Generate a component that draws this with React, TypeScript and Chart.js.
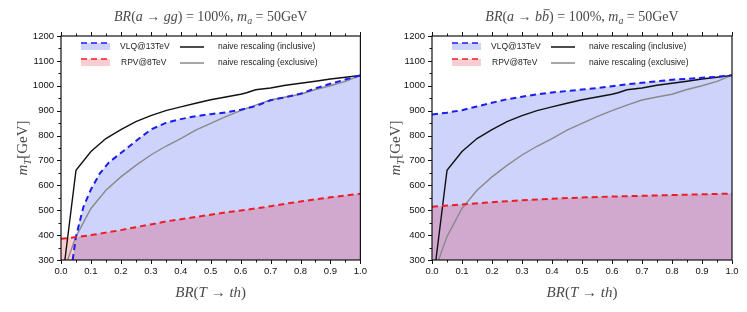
import React, { useEffect, useRef } from "react";
import { Chart, registerables } from "chart.js";
Chart.register(...registerables);

// ---------- data ----------
const BR_INCL = [0.013, 0.05, 0.1, 0.15, 0.2, 0.25, 0.3, 0.35, 0.4, 0.45, 0.5, 0.55, 0.6, 0.62, 0.65, 0.7, 0.75, 0.8, 0.85, 0.9, 0.95, 1.0];
const M_INCL = [300, 660, 736, 788, 824, 856, 880, 900, 915, 930, 944, 955, 966, 972, 984, 991, 1002, 1010, 1018, 1027, 1034, 1042];

const BR_EXCL = [0.022, 0.05, 0.1, 0.15, 0.2, 0.25, 0.3, 0.35, 0.4, 0.45, 0.5, 0.55, 0.6, 0.65, 0.7, 0.75, 0.8, 0.85, 0.9, 0.95, 1.0];
const M_EXCL = [300, 394, 507, 580, 634, 680, 722, 757, 788, 822, 849, 876, 900, 922, 943, 955, 966, 985, 1000, 1018, 1042];

const BR_VLQ_GG = [0.039, 0.05, 0.075, 0.1, 0.13, 0.16, 0.2, 0.25, 0.3, 0.35, 0.4, 0.45, 0.5, 0.55, 0.6, 0.65, 0.7, 0.75, 0.8, 0.85, 0.9, 0.95, 1.0];
const M_VLQ_GG = [300, 394, 514, 583, 648, 692, 730, 778, 824, 851, 866, 878, 886, 893, 904, 918, 942, 954, 968, 990, 1008, 1025, 1042];

const BR_RPV_GG = [0.0, 0.05, 0.1, 0.15, 0.2, 0.25, 0.3, 0.35, 0.4, 0.45, 0.5, 0.55, 0.6, 0.65, 0.7, 0.75, 0.8, 0.85, 0.9, 0.95, 1.0];
const M_RPV_GG = [385, 392, 400, 410, 420, 432, 443, 455, 464, 473, 482, 491, 499, 507, 516, 526, 535, 544, 552, 559, 566];

const BR_VLQ_BB = [0.0, 0.05, 0.1, 0.15, 0.2, 0.25, 0.3, 0.35, 0.4, 0.45, 0.5, 0.55, 0.6, 0.65, 0.7, 0.75, 0.8, 0.85, 0.9, 0.95, 1.0];
const M_VLQ_BB = [885, 892, 902, 917, 932, 946, 956, 966, 973, 979, 985, 991, 998, 1006, 1012, 1018, 1024, 1028, 1032, 1036, 1042];

const BR_RPV_BB = [0.0, 0.1, 0.2, 0.3, 0.4, 0.5, 0.6, 0.7, 0.8, 0.9, 1.0];
const M_RPV_BB = [514, 523, 532, 540, 546, 551, 555, 558, 561, 564, 567];

const X_MIN = 0, X_MAX = 1, X_STEP = 0.1;
const Y_MIN = 300, Y_MAX = 1200, Y_STEP = 100;

const LABEL_VLQ = "VLQ@13TeV";
const LABEL_RPV = "RPV@8TeV";
const LABEL_INCL = "naive rescaling (inclusive)";
const LABEL_EXCL = "naive rescaling (exclusive)";

type Run = { t: string; i?: boolean; sub?: boolean; bar?: boolean };
const TITLE_GG: Run[] = [
  { t: "BR", i: true }, { t: "(" }, { t: "a", i: true }, { t: " → " }, { t: "gg", i: true },
  { t: ") = 100%, " }, { t: "m", i: true }, { t: "a", i: true, sub: true }, { t: " = 50GeV" },
];
const TITLE_BB: Run[] = [
  { t: "BR", i: true }, { t: "(" }, { t: "a", i: true }, { t: " → " }, { t: "b", i: true }, { t: "b", i: true, bar: true },
  { t: ") = 100%, " }, { t: "m", i: true }, { t: "a", i: true, sub: true }, { t: " = 50GeV" },
];
const X_TITLE: Run[] = [{ t: "BR", i: true }, { t: "(" }, { t: "T", i: true }, { t: " → " }, { t: "th", i: true }, { t: ")" }];
const Y_TITLE: Run[] = [{ t: "m", i: true }, { t: "T", i: true, sub: true }, { t: "[GeV]" }];

// ---------- styles ----------
const BLUE_LINE = "#1c1cf0";
const BLUE_FILL = "rgb(205,211,250)";
const RED_LINE = "#ee1c25";
const RED_FILL = "rgba(230,5,30,0.2)";
const BLACK_LINE = "#111111";
const GRAY_LINE = "#8a8a8a";
const TEXT_GRAY = "#4a4a4a";

const zip = (xs: number[], ys: number[]) => xs.map((x, k) => ({ x, y: ys[k] }));

function runFont(r: Run, size: number) {
  const s = r.sub ? size * 0.7 : size;
  return `${r.i ? "italic " : ""}${s}px "Liberation Serif", "DejaVu Serif", serif`;
}

function drawRuns(ctx: CanvasRenderingContext2D, runs: Run[], cx: number, cy: number, size: number, color: string, rotate = false) {
  ctx.save();
  ctx.translate(cx, cy);
  if (rotate) ctx.rotate(-Math.PI / 2);
  let total = 0;
  const widths = runs.map((r) => {
    ctx.font = runFont(r, size);
    const w = ctx.measureText(r.t).width;
    total += w;
    return w;
  });
  let x = -total / 2;
  ctx.fillStyle = color;
  ctx.strokeStyle = color;
  ctx.textAlign = "left";
  ctx.textBaseline = "alphabetic";
  const base = size * 0.35;
  runs.forEach((r, k) => {
    ctx.font = runFont(r, size);
    const yb = base + (r.sub ? size * 0.22 : 0);
    ctx.fillText(r.t, x, yb);
    if (r.bar) {
      ctx.lineWidth = 0.9;
      ctx.beginPath();
      ctx.moveTo(x + 1.5, base - size * 0.8);
      ctx.lineTo(x + widths[k] + 0.5, base - size * 0.8);
      ctx.stroke();
    }
    x += widths[k];
  });
  ctx.restore();
}

const decorPlugin = {
  id: "decor",
  afterDraw(chart: any) {
    const o = chart.options.plugins.decor;
    const { ctx, chartArea: a, scales } = chart;
    const xs = scales.x, ys = scales.y;
    ctx.save();
    // frame
    ctx.strokeStyle = "#111";
    ctx.lineWidth = 1.2;
    ctx.strokeRect(a.left, a.top, a.right - a.left, a.bottom - a.top);
    // ticks (major + minor), outward
    ctx.lineWidth = 1;
    ctx.beginPath();
    for (let k = 0; k <= 20; k++) {
      const v = X_MIN + (k * X_STEP) / 2;
      const px = Math.round(xs.getPixelForValue(v)) + 0.5;
      const len = k % 2 === 0 ? 4 : 2.5;
      ctx.moveTo(px, a.bottom);
      ctx.lineTo(px, a.bottom + len);
      ctx.moveTo(px, a.top);
      ctx.lineTo(px, a.top - len);
    }
    for (let k = 0; k <= 18; k++) {
      const v = Y_MIN + (k * Y_STEP) / 2;
      const py = Math.round(ys.getPixelForValue(v)) + 0.5;
      const len = k % 2 === 0 ? 4 : 2.5;
      ctx.moveTo(a.left, py);
      ctx.lineTo(a.left - len, py);
    }
    ctx.stroke();

    // legend
    const L = a.left, T = a.top;
    const rows = [
      { fill: BLUE_FILL, dash: BLUE_LINE, label: LABEL_VLQ, lx: 59, line: BLACK_LINE, label2: LABEL_INCL, dy: 0 },
      { fill: RED_FILL, dash: RED_LINE, label: LABEL_RPV, lx: 60, line: GRAY_LINE, label2: LABEL_EXCL, dy: 16 },
    ];
    ctx.font = '8.5px "Liberation Sans", Arial, sans-serif';
    ctx.textBaseline = "middle";
    ctx.textAlign = "left";
    rows.forEach((r) => {
      const cy = T + 11 + r.dy;
      ctx.fillStyle = r.fill;
      ctx.fillRect(L + 20, cy - 4, 29, 7);
      ctx.save();
      ctx.setLineDash([6, 4]);
      ctx.strokeStyle = r.dash;
      ctx.lineWidth = 1.6;
      ctx.beginPath();
      ctx.moveTo(L + 20, cy - 4);
      ctx.lineTo(L + 49, cy - 4);
      ctx.stroke();
      ctx.restore();
      ctx.fillStyle = "#222";
      ctx.fillText(r.label, L + r.lx, cy);
      ctx.strokeStyle = r.line;
      ctx.lineWidth = 1.5;
      ctx.beginPath();
      ctx.moveTo(L + 119, cy);
      ctx.lineTo(L + 143, cy);
      ctx.stroke();
      ctx.fillText(r.label2, L + 157, cy);
    });

    // titles
    const cx = (a.left + a.right) / 2;
    drawRuns(ctx, o.title, cx, 16, 14, TEXT_GRAY);
    drawRuns(ctx, X_TITLE, cx, 292, 15, TEXT_GRAY);
    drawRuns(ctx, Y_TITLE, 22, (a.top + a.bottom) / 2, 15, TEXT_GRAY, true);
    ctx.restore();
  },
};

function makeConfig(vlq: { x: number; y: number }[], rpv: { x: number; y: number }[], title: Run[], yWidth: number, padRight: number): any {
  return {
    type: "line",
    data: {
      datasets: [
        { label: LABEL_RPV, data: rpv, borderColor: RED_LINE, borderDash: [6, 4], borderWidth: 2, fill: "start", backgroundColor: RED_FILL, pointRadius: 0, tension: 0 },
        { label: LABEL_VLQ, data: vlq, borderColor: BLUE_LINE, borderDash: [6, 4], borderWidth: 2, fill: "start", backgroundColor: BLUE_FILL, pointRadius: 0, tension: 0 },
        { label: LABEL_INCL, data: zip(BR_INCL, M_INCL), borderColor: BLACK_LINE, borderWidth: 1.4, fill: false, pointRadius: 0, tension: 0 },
        { label: LABEL_EXCL, data: zip(BR_EXCL, M_EXCL), borderColor: GRAY_LINE, borderWidth: 1.4, fill: false, pointRadius: 0, tension: 0 },
      ],
    },
    options: {
      animation: false,
      responsive: false,
      devicePixelRatio: 1,
      events: [],
      layout: { padding: { top: 36, right: padRight, bottom: 0, left: 0 } },
      plugins: {
        legend: { display: false },
        tooltip: { enabled: false },
        title: { display: false },
        filler: { drawTime: "beforeDatasetsDraw" },
        decor: { title },
      },
      scales: {
        x: {
          type: "linear",
          min: X_MIN,
          max: X_MAX,
          grid: { display: false, drawTicks: false, tickLength: 0 },
          border: { display: false },
          ticks: {
            stepSize: X_STEP,
            padding: 6,
            color: "#111",
            font: { family: '"Liberation Sans", Arial, sans-serif', size: 9.5 },
            maxRotation: 0,
            callback: (v: number) => Number(v).toFixed(1),
          },
          afterFit: (axis: any) => { axis.height = 52; },
        },
        y: {
          type: "linear",
          min: Y_MIN,
          max: Y_MAX,
          grid: { display: false, drawTicks: false, tickLength: 0 },
          border: { display: false },
          ticks: {
            stepSize: Y_STEP,
            padding: 7,
            color: "#111",
            font: { family: '"Liberation Sans", Arial, sans-serif', size: 9.5 },
            callback: (v: number) => String(v),
          },
          afterFit: (axis: any) => { axis.width = yWidth; },
        },
      },
    },
    plugins: [decorPlugin],
  };
}

export default function App() {
  const leftRef = useRef<HTMLCanvasElement>(null);
  const rightRef = useRef<HTMLCanvasElement>(null);
  useEffect(() => {
    const c1 = new Chart(leftRef.current as HTMLCanvasElement, makeConfig(zip(BR_VLQ_GG, M_VLQ_GG), zip(BR_RPV_GG, M_RPV_GG), TITLE_GG, 61, 12));
    const c2 = new Chart(rightRef.current as HTMLCanvasElement, makeConfig(zip(BR_VLQ_BB, M_VLQ_BB), zip(BR_RPV_BB, M_RPV_BB), TITLE_BB, 59, 15));
    return () => { c1.destroy(); c2.destroy(); };
  }, []);
  return (
    <div style={{ position: "fixed", left: 0, top: 0, width: 747, height: 312, background: "#fff", display: "flex" }}>
      <canvas ref={leftRef} width={373} height={312} style={{ display: "block" }} />
      <canvas ref={rightRef} width={374} height={312} style={{ display: "block" }} />
    </div>
  );
}
